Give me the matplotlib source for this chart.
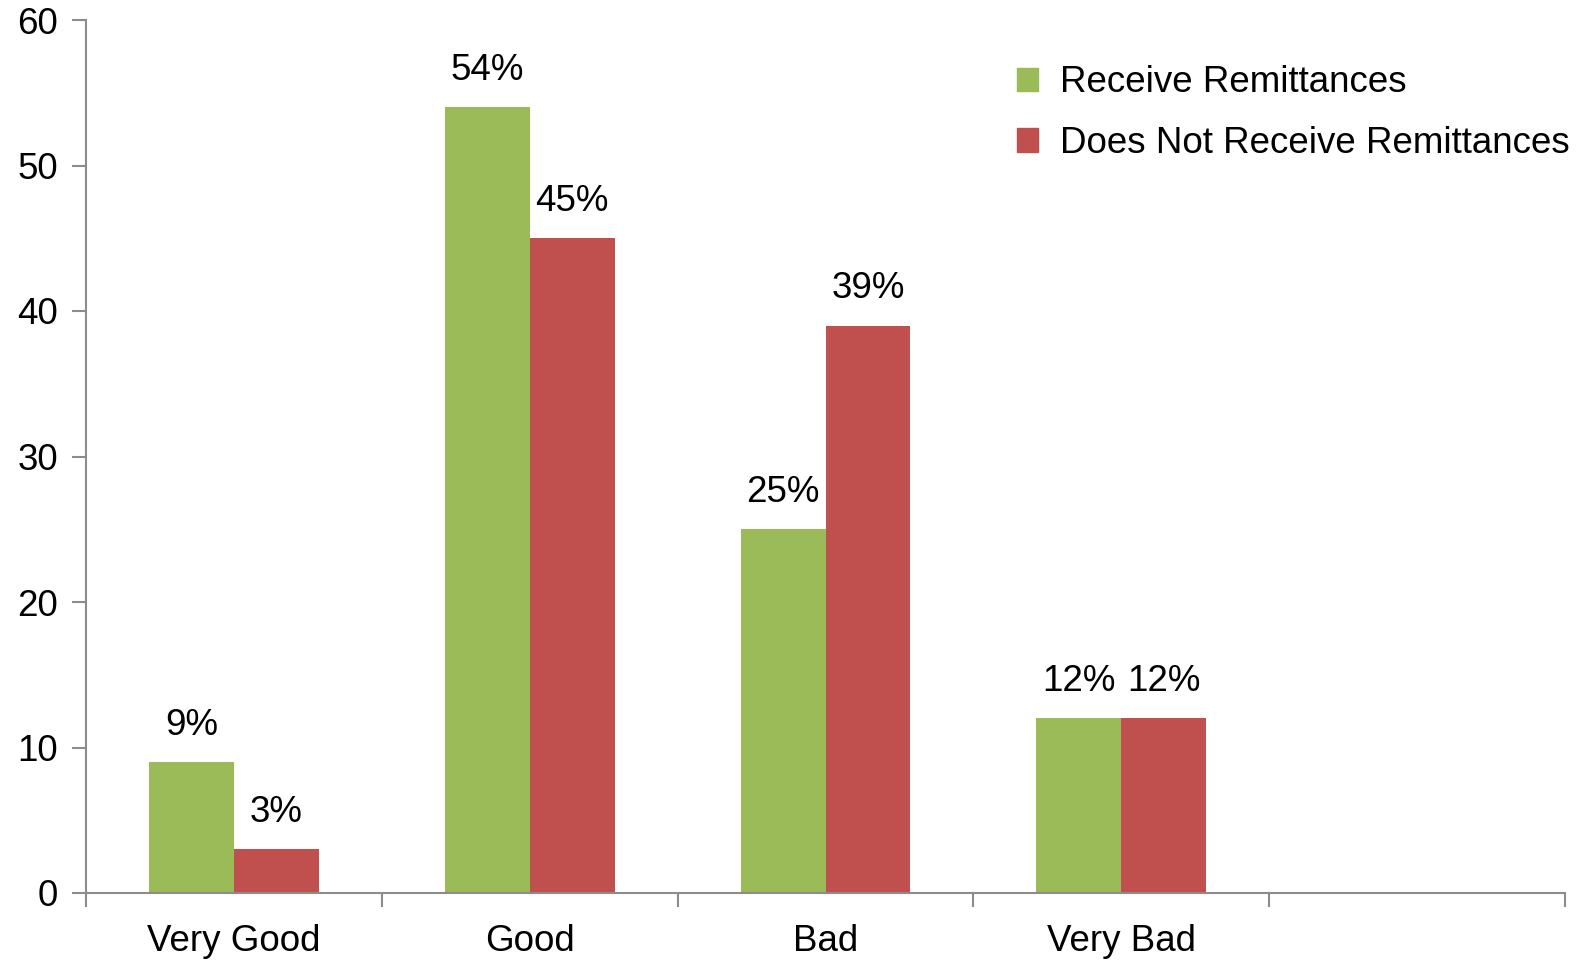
import numpy as np
import matplotlib.pyplot as plt
from matplotlib.patches import Patch

plt.rcParams["font.family"] = ["Liberation Sans", "DejaVu Sans"]

categories = ["Very Good", "Good", "Bad", "Very Bad"]
receive = [9, 54, 25, 12]
not_receive = [3, 45, 39, 12]
series_names = ["Receive Remittances", "Does Not Receive Remittances"]

GREEN = "#9BBB59"
RED = "#C0504D"
GRAY = "#8C8C8C"
FS = 26.5

fig = plt.figure(figsize=(15.77, 9.64), dpi=100)
ax = fig.add_axes([86 / 1577, 1 - 893 / 964, (1565 - 86) / 1577, (893 - 20) / 964])

x = np.arange(len(categories))
w = 0.287
ax.bar(x - w / 2, receive, width=w, color=GREEN, linewidth=0)
ax.bar(x + w / 2, not_receive, width=w, color=RED, linewidth=0)

for xi, v in zip(x, receive):
    ax.annotate(f"{v}%", (xi - w / 2, v), xytext=(0, 14), textcoords="offset points",
                ha="center", va="bottom", fontsize=FS)
for xi, v in zip(x, not_receive):
    ax.annotate(f"{v}%", (xi + w / 2, v), xytext=(0, 14), textcoords="offset points",
                ha="center", va="bottom", fontsize=FS)

ax.set_xlim(-0.5, 4.5)
ax.set_ylim(0, 60)
ax.set_yticks(range(0, 61, 10))
ax.tick_params(axis="y", labelsize=FS, length=10, width=1.5, color=GRAY, pad=10)

# category labels at slot centres, tick marks at slot boundaries
ax.set_xticks(np.arange(-0.5, 5.0, 1.0))
ax.set_xticklabels([])
ax.set_xticks(x, minor=True)
ax.set_xticklabels(categories, minor=True, fontsize=FS)
ax.tick_params(axis="x", which="major", length=10, width=1.5, color=GRAY)
ax.tick_params(axis="x", which="minor", length=0, pad=22)

for s in ["top", "right"]:
    ax.spines[s].set_visible(False)
for s in ["left", "bottom"]:
    ax.spines[s].set_color(GRAY)
    ax.spines[s].set_linewidth(1.5)

handles = [Patch(color=GREEN), Patch(color=RED)]
ax.legend(handles, series_names, loc="upper right", bbox_to_anchor=(1.013, 0.965),
          frameon=False, fontsize=FS, handlelength=0.55, handleheight=0.6,
          handletextpad=0.6, labelspacing=0.7, borderaxespad=0)

fig.savefig("out.png", dpi=100)
